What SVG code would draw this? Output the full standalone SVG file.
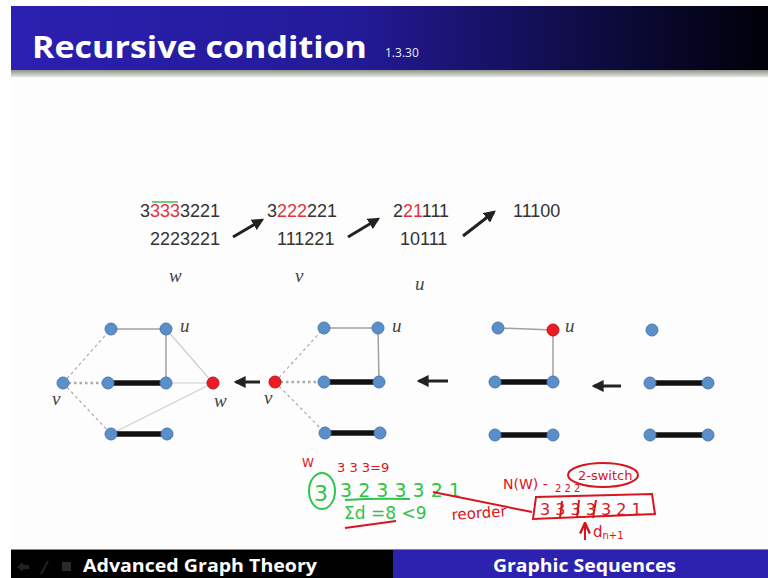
<svg xmlns="http://www.w3.org/2000/svg" width="768" height="578" viewBox="0 0 768 578">
<defs>
<linearGradient id="tb" x1="0" y1="0" x2="1" y2="0">
<stop offset="0" stop-color="#2b20b0"/>
<stop offset="0.45" stop-color="#231a98"/>
<stop offset="0.8" stop-color="#0c0a3a"/>
<stop offset="1" stop-color="#000008"/>
</linearGradient>
<linearGradient id="gb" x1="0" y1="0" x2="0" y2="1">
<stop offset="0" stop-color="#8e9488"/>
<stop offset="1" stop-color="#e4e6e0"/>
</linearGradient>
<marker id="ah" viewBox="0 0 10 10" refX="8" refY="5" markerWidth="4" markerHeight="4" orient="auto" markerUnits="strokeWidth">
<path d="M0,0 L10,5 L0,10 z" fill="#222"/>
</marker>
<marker id="rh" viewBox="0 0 10 10" refX="8" refY="5" markerWidth="6" markerHeight="6" orient="auto" markerUnits="strokeWidth">
<path d="M0,1 L9,5 L0,9" fill="none" stroke="#d8141e" stroke-width="2"/>
</marker>
</defs>
<style>
.seq{font-family:"Liberation Sans",Arial,sans-serif;font-size:18px;fill:#333}
.r{fill:#e3323c}
.lab{font-family:"Liberation Serif","Times New Roman",serif;font-style:italic;font-size:19px;fill:#444}
.nb{fill:#5b8fc9;stroke:#4a78ad;stroke-width:1}
.nr{fill:#ec1c24;stroke:#c01018;stroke-width:1}
.gl{stroke:#a0a0a0;stroke-width:1.5;fill:none}
.ll{stroke:#cfcfcf;stroke-width:1.2;fill:none}
.tk{stroke:#111;stroke-width:5.5;fill:none}
.dsh{stroke:#aaa;stroke-width:1.2;stroke-dasharray:3 3;fill:none}
.dot{stroke:#aaa;stroke-width:2.5;stroke-dasharray:2.5 3;fill:none}
.arr{stroke:#222;stroke-width:3;fill:none;marker-end:url(#ah)}
.hg{font-family:"DejaVu Sans",sans-serif;fill:#2ec44a}
.hr{font-family:"DejaVu Sans",sans-serif;fill:#d8141e}
.pg{stroke:#2ec44a;stroke-width:2;fill:none}
.pr{stroke:#d8141e;stroke-width:2;fill:none}
.ft{font-family:"Open Sans","Liberation Sans",sans-serif;font-weight:bold;font-size:18px;fill:#fff}
</style>
<rect x="0" y="0" width="768" height="578" fill="#ffffff"/>
<rect x="11" y="6" width="757" height="544" fill="#fdfdfd"/>
<g id="title">
<rect x="11" y="6" width="757" height="64" fill="url(#tb)"/>
<rect x="11" y="70" width="757" height="7" fill="url(#gb)"/>
<text x="32" y="58" font-family="Open Sans,Liberation Sans,sans-serif" font-weight="bold" font-size="31" fill="#fff" textLength="335" lengthAdjust="spacingAndGlyphs">Recursive condition</text>
<text x="385" y="57" font-family="Open Sans,Liberation Sans,sans-serif" font-size="12" fill="#eee">1.3.30</text>
</g>
<g id="sequences">
<text class="seq" x="140" y="217">3<tspan class="r">333</tspan>3221</text>
<line x1="152" y1="202" x2="178" y2="202" stroke="#3fbf5a" stroke-width="1.5"/>
<text class="seq" x="150" y="245">2223221</text>
<text class="seq" x="267" y="217">3<tspan class="r">222</tspan>221</text>
<text class="seq" x="277" y="245">111221</text>
<text class="seq" x="393" y="217">2<tspan class="r">21</tspan>111</text>
<text class="seq" x="400" y="245">10111</text>
<text class="seq" x="513" y="217">11100</text>
<text class="lab" x="169" y="282">w</text>
<text class="lab" x="295" y="282">v</text>
<text class="lab" x="415" y="290">u</text>
</g>
<g id="connectors">
<line class="arr" x1="233" y1="237" x2="262" y2="220"/>
<line class="arr" x1="348" y1="237" x2="378" y2="219"/>
<line class="arr" x1="463" y1="236" x2="494" y2="212"/>
<line class="arr" x1="260" y1="382" x2="236" y2="382"/>
<line class="arr" x1="448" y1="381" x2="419" y2="381"/>
<line class="arr" x1="621" y1="386" x2="594" y2="386"/>
<!-- graph 1 -->
<line class="gl" x1="111" y1="329" x2="166" y2="329"/>
<line class="gl" x1="166" y1="329" x2="166" y2="383"/>
<line class="ll" x1="166" y1="329" x2="213" y2="383"/>
<line class="ll" x1="166" y1="383" x2="213" y2="383"/>
<line class="ll" x1="111" y1="434" x2="213" y2="383"/>
<line class="tk" x1="108" y1="383" x2="166" y2="383"/>
<line class="tk" x1="111" y1="434" x2="167" y2="434"/>
<line class="dsh" x1="63" y1="383" x2="111" y2="329"/>
<line class="dot" x1="63" y1="383" x2="108" y2="383"/>
<line class="dsh" x1="63" y1="383" x2="111" y2="434"/>
<!-- graph 2 -->
<line class="gl" x1="324" y1="328" x2="378" y2="328"/>
<line class="gl" x1="378" y1="328" x2="379" y2="382"/>
<line class="tk" x1="324" y1="382" x2="379" y2="382"/>
<line class="tk" x1="325" y1="433" x2="380" y2="433"/>
<line class="dsh" x1="275" y1="382" x2="324" y2="328"/>
<line class="dot" x1="275" y1="382" x2="324" y2="382"/>
<line class="dsh" x1="275" y1="382" x2="325" y2="433"/>
<!-- graph 3 -->
<line class="gl" x1="498" y1="328" x2="553" y2="330" stroke="#999"/>
<line class="gl" x1="553" y1="330" x2="553" y2="382"/>
<line class="tk" x1="495" y1="382" x2="553" y2="382"/>
<line class="tk" x1="495" y1="435" x2="553" y2="435"/>
<!-- graph 4 -->
<line class="tk" x1="650" y1="383" x2="708" y2="383"/>
<line class="tk" x1="650" y1="435" x2="708" y2="435"/>
</g>
<g id="graph1">
<circle class="nb" cx="111" cy="329" r="6"/>
<circle class="nb" cx="166" cy="329" r="6"/>
<circle class="nb" cx="63" cy="383" r="6"/>
<circle class="nb" cx="108" cy="383" r="6"/>
<circle class="nb" cx="166" cy="383" r="6"/>
<circle class="nr" cx="213" cy="383" r="6"/>
<circle class="nb" cx="111" cy="434" r="6"/>
<circle class="nb" cx="167" cy="434" r="6"/>
<text class="lab" x="180" y="332">u</text>
<text class="lab" x="52" y="405">v</text>
<text class="lab" x="214" y="407">w</text>
</g>
<g id="graph2">
<circle class="nr" cx="275" cy="382" r="6"/>
<circle class="nb" cx="324" cy="328" r="6"/>
<circle class="nb" cx="378" cy="328" r="6"/>
<circle class="nb" cx="324" cy="382" r="6"/>
<circle class="nb" cx="379" cy="382" r="6"/>
<circle class="nb" cx="325" cy="433" r="6"/>
<circle class="nb" cx="380" cy="433" r="6"/>
<text class="lab" x="392" y="332">u</text>
<text class="lab" x="264" y="404">v</text>
</g>
<g id="graph3">
<circle class="nb" cx="498" cy="328" r="6"/>
<circle class="nr" cx="553" cy="330" r="6"/>
<circle class="nb" cx="495" cy="382" r="6"/>
<circle class="nb" cx="553" cy="382" r="6"/>
<circle class="nb" cx="495" cy="435" r="6"/>
<circle class="nb" cx="553" cy="435" r="6"/>
<text class="lab" x="565" y="332">u</text>
</g>
<g id="graph4">
<circle class="nb" cx="652" cy="330" r="6"/>
<circle class="nb" cx="650" cy="383" r="6"/>
<circle class="nb" cx="708" cy="383" r="6"/>
<circle class="nb" cx="650" cy="435" r="6"/>
<circle class="nb" cx="708" cy="435" r="6"/>
</g>
<g id="annotations">
<text class="hr" x="302" y="467" font-size="12">W</text>
<text class="hr" x="337" y="472" font-size="13">3 3  3=9</text>
<ellipse class="pg" cx="322" cy="491" rx="13" ry="18"/>
<text class="hg" x="314" y="501" font-size="22">3</text>
<text class="hg" x="340" y="497" font-size="19">3 2 3 3 3 2 1</text>
<path class="pg" d="M345,500 Q375,498 410,499"/>
<text class="hg" x="344" y="519" font-size="17">Σd =8 &lt;9</text>
<path class="pr" d="M345,528 L396,521"/>
<path class="pr" d="M433,492 L532,512"/>
<text class="hr" x="452" y="520" font-size="15" transform="rotate(-4 452 520)">reorder</text>
<text class="hr" x="503" y="489" font-size="14">N(W) -</text>
<ellipse class="pr" cx="603" cy="475" rx="35" ry="12"/>
<text class="hr" x="578" y="480" font-size="13">2-switch</text>
<path class="pr" d="M536,497 L652,494 L655,514 L533,519 Z"/>
<text class="hr" x="555" y="492" font-size="10">2 2 2</text>
<text class="hr" x="540" y="515" font-size="16">3 3 3 3 3 2 1</text>
<path class="pr" d="M562,501 L560,518 M579,500 L577,518 M596,500 L593,518"/>
<path class="pr" d="M585,540 L585,524" marker-end="url(#rh)"/>
<text class="hr" x="593" y="537" font-size="15">d<tspan font-size="10" dy="2">n+1</tspan></text>
</g>
<g id="footer">
<rect x="11" y="549" width="757" height="1.5" fill="#888"/>
<rect x="11" y="550" width="382" height="28" fill="#000"/>
<rect x="393" y="550" width="375" height="28" fill="#2d22b0"/>
<path d="M17,567 L23,562 L23,565 L29,565 L29,569 L23,569 L23,572 Z" fill="#222"/>
<path d="M41,574 L48,561" stroke="#222" stroke-width="2"/>
<rect x="62" y="562" width="9" height="9" fill="#2a2a2a"/>
<text class="ft" x="83" y="572" textLength="234" lengthAdjust="spacingAndGlyphs">Advanced Graph Theory</text>
<text class="ft" x="493" y="572" textLength="183" lengthAdjust="spacingAndGlyphs">Graphic Sequences</text>
</g>
</svg>
